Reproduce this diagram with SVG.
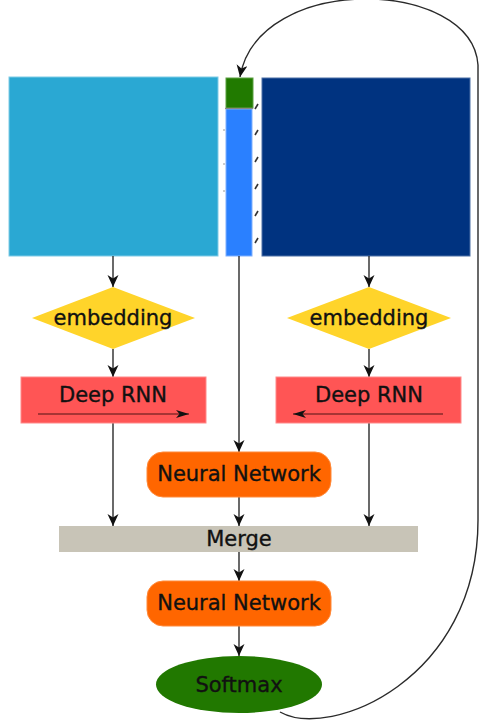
<svg xmlns="http://www.w3.org/2000/svg" width="480" height="723" viewBox="0 0 480 723">
  <style>
    .lbl { font-family: "DejaVu Sans", Verdana, sans-serif; font-size: 21px; fill: #111; stroke: #111; stroke-width: 0.35; text-anchor: middle; }
    .edge { stroke: #2a2a2a; stroke-width: 1.4; fill: none; marker-end: url(#arr); }
    .inner { stroke: #8a2a2a; stroke-width: 1.5; fill: none; marker-end: url(#arrIn); }
    .rnn { fill: #ff5555; stroke: #ff8a8a; stroke-width: 1; }
    .diamond { fill: #ffd42a; }
    .nn { fill: #ff6600; stroke: #ff8a3a; stroke-width: 1; }
    .tick { stroke: #333; stroke-width: 1.6; }
  </style>
  <defs>
    <marker id="arr" markerWidth="12" markerHeight="12" refX="12" refY="5.5" orient="auto" markerUnits="userSpaceOnUse">
      <path d="M0,0 L12,5.5 L0,11 L3.5,5.5 z" fill="#111"/>
    </marker>
    <marker id="arrIn" markerWidth="14" markerHeight="8" refX="13" refY="4" orient="auto" markerUnits="userSpaceOnUse">
      <path d="M0,0 L13,4 L0,8 L3.5,4 z" fill="#111"/>
    </marker>
  </defs>
  <rect width="480" height="723" fill="#fff"/>

  <!-- input sequence blocks -->
  <g id="left-input">
    <rect x="9" y="77" width="209" height="179" fill="#2aa8d3" stroke="#7fcbe6" stroke-width="1"/>
  </g>
  <g id="current-column">
    <rect x="226" y="78" width="27" height="30" fill="#217a00" stroke="#5aa040" stroke-width="1"/>
    <rect x="226" y="109" width="26" height="147" fill="#2a80ff" stroke="#7fb0ff" stroke-width="1"/>
    <line x1="225" y1="108.5" x2="253" y2="108.5" stroke="#888" stroke-width="1.2"/>
    <g class="tick">
      <line x1="255" y1="109" x2="258" y2="104"/>
      <line x1="255" y1="135" x2="258" y2="130"/>
      <line x1="255" y1="162" x2="258" y2="157"/>
      <line x1="255" y1="189" x2="258" y2="184"/>
      <line x1="255" y1="216" x2="258" y2="211"/>
      <line x1="255" y1="243" x2="258" y2="238"/>
    </g>
    <g stroke="#999" stroke-width="1">
      <line x1="223" y1="130" x2="225" y2="130"/>
      <line x1="223" y1="164" x2="225" y2="164"/>
      <line x1="223" y1="191" x2="225" y2="191"/>
    </g>
  </g>
  <g id="right-input">
    <rect x="262" y="78" width="208" height="178" fill="#003380" stroke="#4d70a6" stroke-width="1"/>
  </g>

  <!-- connectors -->
  <g id="connectors">
    <line class="edge" x1="113" y1="256" x2="113" y2="287"/>
    <line class="edge" x1="113" y1="349" x2="113" y2="377"/>
    <line class="edge" x1="369" y1="256" x2="369" y2="287"/>
    <line class="edge" x1="369" y1="349" x2="369" y2="377"/>
    <line class="edge" x1="239" y1="256" x2="239" y2="452"/>
    <line class="edge" x1="113" y1="423" x2="113" y2="526"/>
    <line class="edge" x1="369" y1="423" x2="369" y2="526"/>
    <line class="edge" x1="239" y1="497" x2="239" y2="526"/>
    <line class="edge" x1="239" y1="552" x2="239" y2="581"/>
    <line class="edge" x1="239" y1="626" x2="239" y2="656"/>
    <path class="edge" d="M280,712 C330,740 478,680 478,520 L478,65 C472,-22 258,-28 240,77"/>
  </g>

  <!-- left branch -->
  <g id="embedding-left">
    <polygon class="diamond" points="113,287 195,318 113,349 32,318"/>
    <text class="lbl" x="113" y="325">embedding</text>
  </g>
  <g id="rnn-left">
    <rect class="rnn" x="21" y="377" width="185" height="46"/>
    <text class="lbl" x="113" y="402">Deep RNN</text>
    <line class="inner" x1="38" y1="414" x2="189" y2="414"/>
  </g>

  <!-- right branch -->
  <g id="embedding-right">
    <polygon class="diamond" points="369,287 451,318 369,349 287,318"/>
    <text class="lbl" x="369" y="325">embedding</text>
  </g>
  <g id="rnn-right">
    <rect class="rnn" x="276" y="377" width="185" height="46"/>
    <text class="lbl" x="369" y="402">Deep RNN</text>
    <line class="inner" x1="443" y1="414" x2="293" y2="414"/>
  </g>

  <!-- merge and output stack -->
  <g id="nn-top">
    <rect class="nn" x="147" y="452" width="184" height="45" rx="16"/>
    <text class="lbl" x="239" y="481">Neural Network</text>
  </g>
  <g id="merge">
    <rect x="59" y="526" width="359" height="26" fill="#c8c4b7"/>
    <text class="lbl" x="239" y="546">Merge</text>
  </g>
  <g id="nn-bottom">
    <rect class="nn" x="147" y="581" width="184" height="45" rx="16"/>
    <text class="lbl" x="239" y="610">Neural Network</text>
  </g>
  <g id="softmax">
    <rect x="156" y="656" width="166" height="57" rx="83" ry="28.5" fill="#217800"/>
    <text class="lbl" x="239" y="692">Softmax</text>
  </g>
</svg>
